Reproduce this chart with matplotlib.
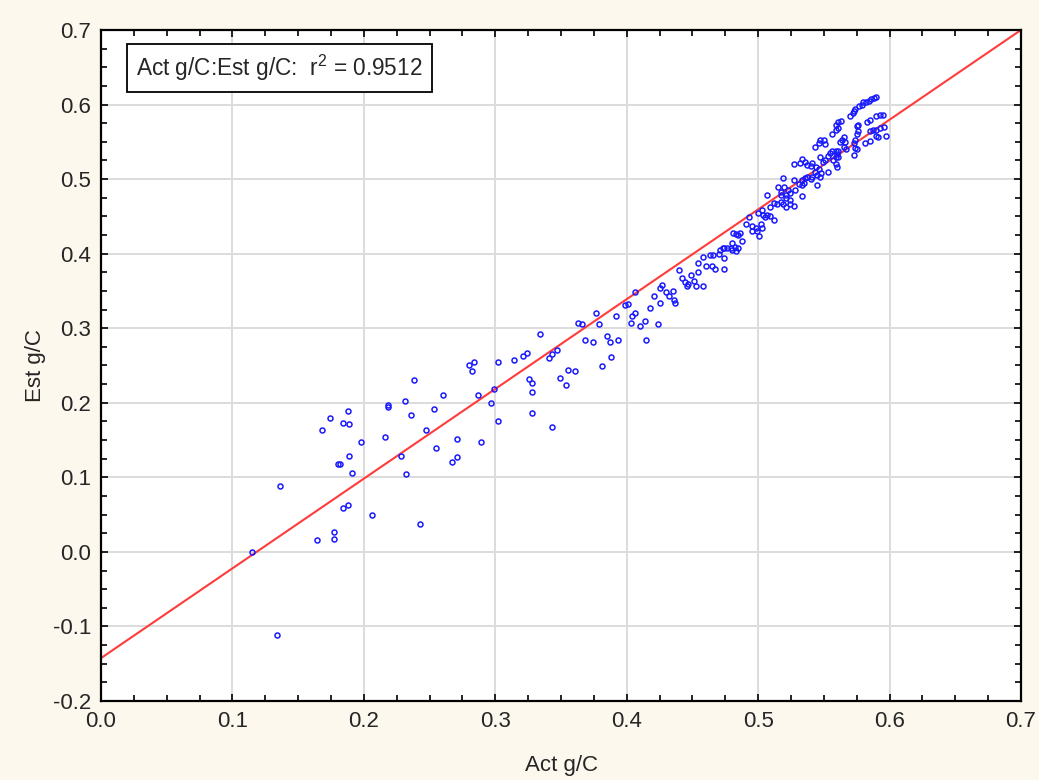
import matplotlib
matplotlib.use("Agg")
import matplotlib.pyplot as plt
from matplotlib.ticker import MultipleLocator
import numpy as np

plt.rcParams['font.family'] = ['Liberation Sans', 'DejaVu Sans']
plt.rcParams['mathtext.fontset'] = 'custom'
plt.rcParams['mathtext.rm'] = 'Liberation Sans'
plt.rcParams['mathtext.it'] = 'Liberation Sans'

act_gc = [
    0.115, 0.136, 0.134, 0.164, 0.177, 0.177, 0.184, 0.188, 0.206, 0.243,
    0.191, 0.189, 0.180, 0.182, 0.198, 0.168, 0.174, 0.184, 0.189, 0.188,
    0.216, 0.218, 0.218, 0.231, 0.236, 0.238, 0.228, 0.232, 0.247, 0.253,
    0.255, 0.260, 0.271, 0.271, 0.267, 0.289, 0.287, 0.280, 0.284, 0.282,
    0.299, 0.297, 0.302, 0.302, 0.314, 0.321, 0.324, 0.326, 0.328, 0.328,
    0.328, 0.334, 0.343,
    0.341, 0.343, 0.347, 0.349, 0.354, 0.355, 0.361, 0.363, 0.366, 0.368,
    0.374, 0.377, 0.379, 0.381, 0.385, 0.387, 0.388, 0.393, 0.392, 0.399,
    0.401, 0.406, 0.404, 0.406, 0.403, 0.410, 0.414, 0.415, 0.418, 0.421,
    0.424, 0.425, 0.425, 0.427, 0.430, 0.432, 0.435, 0.436, 0.437, 0.440,
    0.442, 0.444, 0.446, 0.447, 0.449, 0.451, 0.453, 0.458, 0.454, 0.454,
    0.458, 0.460, 0.463, 0.466, 0.465, 0.467, 0.470, 0.471, 0.473, 0.474,
    0.474, 0.474, 0.476, 0.479,
    0.590, 0.588, 0.586, 0.584, 0.582, 0.580, 0.579, 0.577,
    0.574, 0.573, 0.572, 0.570, 0.595, 0.593, 0.590,
    0.585, 0.583, 0.576, 0.575,
    0.596, 0.593, 0.590, 0.587, 0.585,
    0.563, 0.561, 0.559, 0.561, 0.559, 0.556, 0.576, 0.575,
    0.597, 0.591, 0.590, 0.585, 0.581,
    0.574, 0.573, 0.574, 0.575,
    0.565, 0.564, 0.562, 0.566,
    0.547, 0.550, 0.546, 0.551, 0.543, 0.565, 0.567,
    0.556, 0.559, 0.561, 0.560, 0.559, 0.557, 0.561, 0.573,
    0.555, 0.553, 0.547, 0.551, 0.549, 0.560, 0.559,
    0.533, 0.536, 0.532, 0.537, 0.541, 0.540, 0.527,
    0.544, 0.546, 0.543, 0.545, 0.553,
    0.537, 0.536, 0.540, 0.541, 0.547, 0.548,
    0.519, 0.527, 0.533, 0.545, 0.531, 0.533, 0.535,
    0.515, 0.520, 0.517, 0.523, 0.528,
    0.507, 0.517, 0.521, 0.524, 0.533,
    0.521, 0.524, 0.517, 0.519, 0.524, 0.521, 0.527,
    0.512, 0.514, 0.509,
    0.503, 0.500, 0.504, 0.505, 0.507, 0.509, 0.512, 0.493,
    0.491, 0.495, 0.498, 0.502, 0.503, 0.499, 0.495, 0.501,
    0.486, 0.485, 0.483, 0.481, 0.488,
    0.480, 0.482, 0.485, 0.483, 0.480,
]
est_gc = [
    0.000, 0.088, -0.112, 0.016, 0.027, 0.017, 0.059, 0.063, 0.050, 0.038,
    0.106, 0.129, 0.118, 0.118, 0.147, 0.163, 0.180, 0.173, 0.172, 0.189,
    0.154, 0.197, 0.194, 0.202, 0.184, 0.231, 0.129, 0.104, 0.164, 0.191,
    0.139, 0.210, 0.152, 0.127, 0.121, 0.147, 0.211, 0.251, 0.254, 0.242,
    0.218, 0.200, 0.175, 0.254, 0.258, 0.263, 0.267, 0.232, 0.226, 0.215,
    0.186, 0.292, 0.168,
    0.260, 0.265, 0.271, 0.233, 0.224, 0.244, 0.242, 0.307, 0.305, 0.284,
    0.281, 0.320, 0.305, 0.249, 0.289, 0.281, 0.262, 0.284, 0.317, 0.331,
    0.332, 0.348, 0.317, 0.320, 0.307, 0.303, 0.310, 0.284, 0.327, 0.343,
    0.305, 0.334, 0.354, 0.358, 0.349, 0.343, 0.350, 0.338, 0.334, 0.378,
    0.367, 0.362, 0.356, 0.359, 0.371, 0.363, 0.356, 0.356, 0.376, 0.388,
    0.396, 0.383, 0.398, 0.398, 0.383, 0.379, 0.399, 0.405, 0.408, 0.407,
    0.394, 0.379, 0.407, 0.407,
    0.610, 0.609, 0.607, 0.605, 0.604, 0.603, 0.600, 0.598,
    0.594, 0.591, 0.589, 0.585, 0.586, 0.586, 0.585,
    0.579, 0.576, 0.573, 0.571,
    0.570, 0.568, 0.566, 0.566, 0.565,
    0.578, 0.576, 0.573, 0.568, 0.566, 0.561, 0.564, 0.561,
    0.558, 0.556, 0.558, 0.551, 0.548,
    0.553, 0.548, 0.542, 0.540,
    0.557, 0.553, 0.550, 0.550,
    0.553, 0.552, 0.548, 0.547, 0.543, 0.543, 0.541,
    0.538, 0.537, 0.538, 0.534, 0.530, 0.526, 0.529, 0.532,
    0.535, 0.531, 0.530, 0.526, 0.523, 0.516, 0.520,
    0.527, 0.523, 0.521, 0.519, 0.521, 0.517, 0.520,
    0.516, 0.513, 0.510, 0.506, 0.510,
    0.503, 0.501, 0.500, 0.503, 0.503, 0.508,
    0.501, 0.499, 0.499, 0.492, 0.494, 0.492, 0.495,
    0.490, 0.490, 0.483, 0.485, 0.486,
    0.479, 0.478, 0.478, 0.481, 0.477,
    0.474, 0.472, 0.469, 0.467, 0.466, 0.463, 0.464,
    0.468, 0.467, 0.462,
    0.458, 0.454, 0.452, 0.449, 0.452, 0.450, 0.445, 0.449,
    0.440, 0.437, 0.435, 0.440, 0.434, 0.431, 0.430, 0.423,
    0.427, 0.425, 0.426, 0.428, 0.417,
    0.414, 0.409, 0.407, 0.403, 0.405,
]

# droite de régression
intercept = -0.1425
slope = 1.2036
r2 = 0.9512

fond = '#fdf8ed'
texte = '#262626'

fig = plt.figure(figsize=(10.39, 7.8), dpi=100, facecolor=fond)
ax = fig.add_axes([0.0972, 0.1013, 0.8855, 0.8603])
ax.set_facecolor('white')

ax.grid(True, color='#dcdcdc', lw=1.4, zorder=0)
ax.set_axisbelow(True)

xl = np.array([0.0, 0.7])
ax.plot(xl, intercept + slope * xl, color='#ff3b3b', lw=1.5, zorder=2)

ax.plot(act_gc, est_gc, 'o', mfc='none', mec='#1a1aff', ms=3.6, mew=1.1, zorder=3)

ax.set_xlim(0, 0.7)
ax.set_ylim(-0.2, 0.7)
ax.xaxis.set_major_locator(MultipleLocator(0.1))
ax.yaxis.set_major_locator(MultipleLocator(0.1))
ax.xaxis.set_minor_locator(MultipleLocator(0.025))
ax.yaxis.set_minor_locator(MultipleLocator(0.025))
ax.xaxis.set_major_formatter(plt.FuncFormatter(lambda v, p: f"{v:.1f}"))
ax.yaxis.set_major_formatter(plt.FuncFormatter(lambda v, p: f"{v:.1f}"))
ax.tick_params(which='both', direction='in', top=True, right=True, color='black', width=1.2)
ax.tick_params(which='major', length=5, labelsize=16, labelcolor=texte, pad=7)
ax.tick_params(which='minor', length=4)
for s in ax.spines.values():
    s.set_linewidth(1.6)
    s.set_color('black')

ax.set_xlabel("Act g/C", fontsize=16, color=texte, labelpad=17)
ax.set_ylabel("Est g/C", fontsize=16, color=texte, labelpad=5)

ax.text(0.038, 0.943, "Act g/C:Est g/C:  r$^2$ = %.4f" % r2, transform=ax.transAxes,
        fontsize=16.3, color=texte, va='center', ha='left',
        bbox=dict(boxstyle='square,pad=0.4', fc='white', ec='black', lw=1.3))

plt.savefig("out.png", dpi=100, facecolor=fond)
